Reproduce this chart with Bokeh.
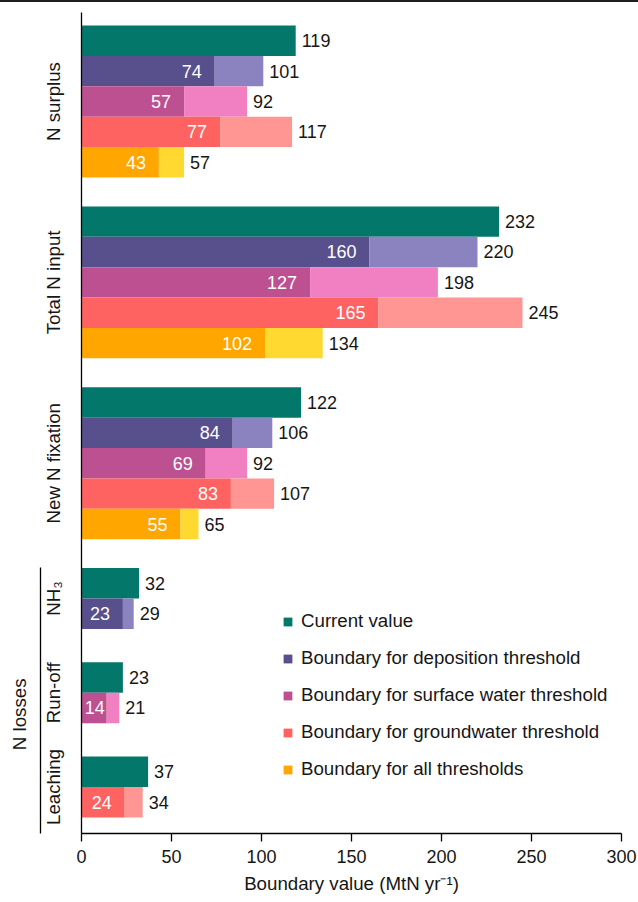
from bokeh.plotting import figure
from bokeh.models import (Range1d, FixedTicker, LinearAxis, Legend, LegendItem,
                          ColumnDataSource)
from bokeh.core.properties import value
from bokeh.embed import file_html
from bokeh.resources import INLINE

# ---- data (MtN per year) ----
groups = ["N surplus", "Total N input", "New N fixation", "NH₃", "Run-off", "Leaching"]
current = [119, 232, 122, 32, 23, 37]

deposition_low = [74, 160, 84, 23, None, None]
deposition_high = [101, 220, 106, 29, None, None]
surface_low = [57, 127, 69, None, 14, None]
surface_high = [92, 198, 92, None, 21, None]
groundwater_low = [77, 165, 83, None, None, 24]
groundwater_high = [117, 245, 107, None, None, 34]
all_low = [43, 102, 55, None, None, None]
all_high = [57, 134, 65, None, None, None]

x_ticks = [0, 50, 100, 150, 200, 250, 300]
losses_label = "N losses"
x_title = "Boundary value (MtN yr⁻¹)"

# ---- styling ----
FONT = "Liberation Sans"
FS = "18px"
FS_TEXT = "18.7px"
TXT = "#161616"
CURRENT_COLOR = "#04776b"
series = [
    ("Boundary for deposition threshold", deposition_low, deposition_high, "#58508d", "#8b83bf"),
    ("Boundary for surface water threshold", surface_low, surface_high, "#bc5090", "#f080c2"),
    ("Boundary for groundwater threshold", groundwater_low, groundwater_high, "#ff6361", "#ff9693"),
    ("Boundary for all thresholds", all_low, all_high, "#ffa600", "#ffd930"),
]

# gap (in bar heights) placed before each group
group_gaps = [0.0, 0.95, 0.95, 0.95, 1.1, 1.1]

X_START, X_END = 0, 300
FRAME_W = 540            # px between x = 0 and x = 300
PX_PER_UNIT = FRAME_W / (X_END - X_START)
DIGIT_W = 10.0           # approx. width of one digit at 18px


def inner_offset(v):
    """Shift a white in-bar label left of the bar end, but keep it inside the bar."""
    bar_px = v * PX_PER_UNIT
    label_px = DIGIT_W * len(str(v))
    return -max(2.0, min(13.0, bar_px - label_px - 4.0))


# ---- row layout: one slot per bar, slot index grows downward ----
current_y = []
series_y = [[None] * len(groups) for _ in series]
group_centers = []
pos = 0.0
for g in range(len(groups)):
    pos += group_gaps[g]
    top = pos
    current_y.append(pos + 0.5)
    pos += 1
    for s, (_, low, high, _, _) in enumerate(series):
        if low[g] is not None:
            series_y[s][g] = pos + 0.5
            pos += 1
    group_centers.append((top + pos) / 2)

losses_top = group_centers[3] - 1 - 0.03
losses_center = 22.66
losses_bounds = (losses_top, pos + 0.75)

p = figure(width=638, height=902, output_backend="svg", toolbar_location=None,
           x_range=Range1d(X_START, X_END), y_range=Range1d(26.58, -0.428),
           min_border_left=81, min_border_right=17, min_border_top=12, min_border_bottom=69)
p.outline_line_color = None
p.grid.visible = False
p.background_fill_color = "white"
p.border_fill_alpha = 0
# thin rule along the top edge of the page
p.styles = {"background": "linear-gradient(to bottom, #1e1e1e 0px, #1e1e1e 2px, #ffffff 2px, #ffffff 100%)"}

# current values
src_cur = ColumnDataSource(dict(y=current_y, v=current, lab=[str(v) for v in current]))
r_cur = p.hbar(y="y", left=0, right="v", height=1, source=src_cur,
               fill_color=CURRENT_COLOR, line_color=None)
p.text(x="v", y="y", text="lab", source=src_cur, x_offset=6, text_align="left",
       text_baseline="middle", text_font=value(FONT), text_font_size=FS, text_color=TXT)

legend_items = [LegendItem(label="Current value", renderers=[r_cur])]

for s, (name, low, high, dark, light) in enumerate(series):
    idx = [g for g in range(len(groups)) if low[g] is not None]
    src = ColumnDataSource(dict(
        y=[series_y[s][g] for g in idx],
        lo=[low[g] for g in idx],
        hi=[high[g] for g in idx],
        lo_lab=[str(low[g]) for g in idx],
        hi_lab=[str(high[g]) for g in idx],
        lo_off=[inner_offset(low[g]) for g in idx],
    ))
    r_dark = p.hbar(y="y", left=0, right="lo", height=1, source=src,
                    fill_color=dark, line_color=None)
    p.hbar(y="y", left="lo", right="hi", height=1, source=src,
           fill_color=light, line_color=None)
    p.text(x="lo", y="y", text="lo_lab", source=src, x_offset="lo_off", text_align="right",
           text_baseline="middle", text_font=value(FONT), text_font_size=FS, text_color="white")
    p.text(x="hi", y="y", text="hi_lab", source=src, x_offset=6, text_align="left",
           text_baseline="middle", text_font=value(FONT), text_font_size=FS, text_color=TXT)
    legend_items.append(LegendItem(label=name, renderers=[r_dark]))

# ---- axes ----
xa = p.xaxis[0]
xa.ticker = FixedTicker(ticks=x_ticks)
xa.major_tick_out = 8
xa.major_tick_in = 0
xa.minor_tick_line_color = None
xa.axis_line_width = 1.3
xa.axis_line_color = "black"
xa.major_tick_line_color = "black"
xa.major_tick_line_width = 1.3
xa.major_label_text_font = FONT
xa.major_label_text_font_size = FS
xa.major_label_text_color = TXT
xa.major_label_standoff = 8
xa.axis_label = x_title
xa.axis_label_text_font = FONT
xa.axis_label_text_font_size = FS_TEXT
xa.axis_label_text_font_style = "normal"
xa.axis_label_text_color = TXT
xa.axis_label_standoff = 7

ya = p.yaxis[0]
ya.ticker = FixedTicker(ticks=group_centers)
ya.major_label_overrides = {c: g for c, g in zip(group_centers, groups)}
ya.major_label_orientation = "vertical"
ya.major_tick_out = 0
ya.major_tick_in = 0
ya.minor_tick_line_color = None
ya.major_tick_line_color = None
ya.axis_line_width = 1.3
ya.axis_line_color = "black"
ya.major_label_text_font = FONT
ya.major_label_text_font_size = FS_TEXT
ya.major_label_text_color = TXT
ya.major_label_standoff = 17
ya.major_label_text_line_height = 1.35

# outer bracket axis for the loss pathways
la = LinearAxis(ticker=FixedTicker(ticks=[losses_center]),
                major_label_overrides={losses_center: losses_label},
                bounds=losses_bounds)
la.major_label_orientation = "vertical"
la.major_tick_out = 0
la.major_tick_in = 0
la.minor_tick_line_color = None
la.major_tick_line_color = None
la.axis_line_width = 1.3
la.axis_line_color = "black"
la.major_label_text_font = FONT
la.major_label_text_font_size = FS_TEXT
la.major_label_text_color = TXT
la.major_label_standoff = 10
p.add_layout(la, "left")

# ---- legend ----
legend = Legend(items=legend_items, location=(201, 53), orientation="vertical",
                glyph_width=11, glyph_height=11, label_height=22, spacing=15,
                label_standoff=8, padding=0, margin=0,
                border_line_color=None, background_fill_alpha=0,
                label_text_font=FONT, label_text_font_size=FS_TEXT, label_text_color=TXT)
p.add_layout(legend)

open("out.html", "w").write(file_html(p, INLINE))
